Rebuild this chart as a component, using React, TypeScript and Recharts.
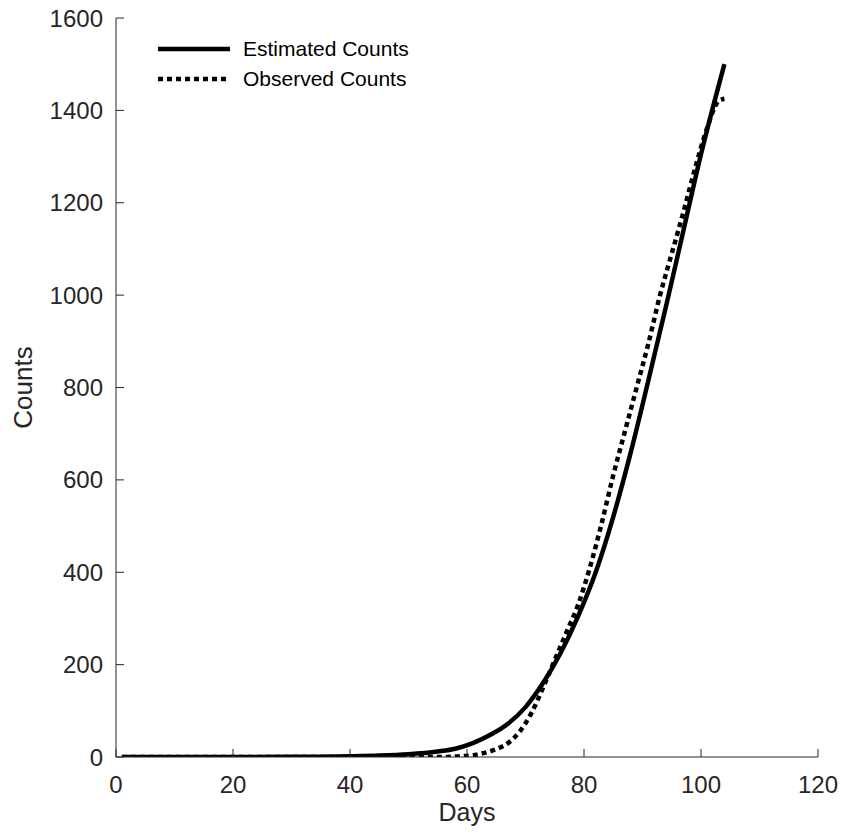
import { Line, LineChart, XAxis, YAxis } from "recharts";

const estDays = [1, 10, 20, 30, 40, 45, 50, 55, 58, 61, 64, 67, 70, 73, 76, 79, 82, 85, 88, 91, 94, 97, 100, 102, 104];
const estCounts = [0, 0, 0, 0.3, 1.5, 3, 6, 12, 18, 30, 48, 72, 108, 160, 225, 305, 400, 520, 660, 815, 975, 1140, 1305, 1405, 1500];

const obsDays = [1, 10, 20, 30, 40, 50, 55, 58, 61, 63, 65, 67, 69, 71, 73, 75, 77, 79, 81, 83, 85, 87, 89, 91, 93, 95, 97, 99, 101, 103, 104];
const obsCounts = [0, 0, 0, 0, 0, 0, 0, 1, 4, 9, 17, 30, 55, 95, 150, 210, 270, 330, 410, 505, 610, 705, 800, 895, 1000, 1090, 1180, 1275, 1360, 1420, 1425];

const xTicks = [0, 20, 40, 60, 80, 100, 120];
const yTicks = [0, 200, 400, 600, 800, 1000, 1200, 1400, 1600];

const estimated = estDays.map((d, i) => ({ day: d, count: estCounts[i] }));
const observed = obsDays.map((d, i) => ({ day: d, count: obsCounts[i] }));

const axisColor = "#262626";
const font = "'Liberation Sans', Arial, Helvetica, sans-serif";
const tickStyle = { fontSize: 24, fill: axisColor, fontFamily: font };
const noLabel = () => <g />;

function LegendBox() {
  const row = (dash: string | undefined, label: string) => (
    <div style={{ display: "flex", alignItems: "center", height: 30 }}>
      <svg width={80} height={10} style={{ display: "block" }}>
        <line x1={0} y1={5} x2={72} y2={5} stroke="#000" strokeWidth={4.5} strokeDasharray={dash} />
      </svg>
      <span style={{ fontFamily: font, fontSize: 21, color: "#000", marginLeft: 5 }}>{label}</span>
    </div>
  );
  return (
    <div style={{ position: "absolute", left: 158, top: 34 }}>
      {row(undefined, "Estimated Counts")}
      {row("5 4", "Observed Counts")}
    </div>
  );
}

export default function App() {
  return (
    <div style={{ position: "absolute", left: 0, top: 0, width: 842, height: 835, background: "#fff" }}>
      <LineChart width={842} height={835} margin={{ top: 18, right: 24, bottom: 0, left: 0 }}>
        <XAxis
          dataKey="day"
          type="number"
          domain={[0, 120]}
          ticks={xTicks}
          allowDataOverflow
          height={78}
          stroke={axisColor}
          tickSize={-8}
          tickMargin={27}
          tick={tickStyle}
          label={{
            content: ({ viewBox }: any) => (
              <text x={viewBox.x + viewBox.width / 2} y={821} textAnchor="middle" fontSize={25} fontFamily={font} fill={axisColor}>
                Days
              </text>
            ),
          }}
        />
        <XAxis
          xAxisId="top"
          orientation="top"
          type="number"
          domain={[0, 120]}
          ticks={xTicks}
          height={0}
          stroke={axisColor}
          tickSize={-8}
          tick={noLabel}
        />
        <YAxis
          type="number"
          domain={[0, 1600]}
          ticks={yTicks}
          allowDataOverflow
          width={116}
          stroke={axisColor}
          tickSize={-8}
          tickMargin={21}
          tick={tickStyle}
          label={{
            content: ({ viewBox }: any) => {
              const cx = viewBox.x + 32;
              const cy = viewBox.y + viewBox.height / 2;
              return (
                <text x={cx} y={cy} transform={`rotate(-90, ${cx}, ${cy})`} textAnchor="middle" fontSize={26} fontFamily={font} fill={axisColor}>
                  Counts
                </text>
              );
            },
          }}
        />
        <YAxis
          yAxisId="right"
          orientation="right"
          type="number"
          domain={[0, 1600]}
          ticks={yTicks}
          width={0}
          stroke={axisColor}
          tickSize={-8}
          tick={noLabel}
        />
        <Line
          data={estimated}
          dataKey="count"
          type="monotone"
          stroke="#000"
          strokeWidth={4.5}
          dot={false}
          isAnimationActive={false}
          name="Estimated Counts"
        />
        <Line
          data={observed}
          dataKey="count"
          type="monotone"
          stroke="#000"
          strokeWidth={4.5}
          strokeDasharray="5 4"
          dot={false}
          isAnimationActive={false}
          name="Observed Counts"
        />
      </LineChart>
      <LegendBox />
    </div>
  );
}
